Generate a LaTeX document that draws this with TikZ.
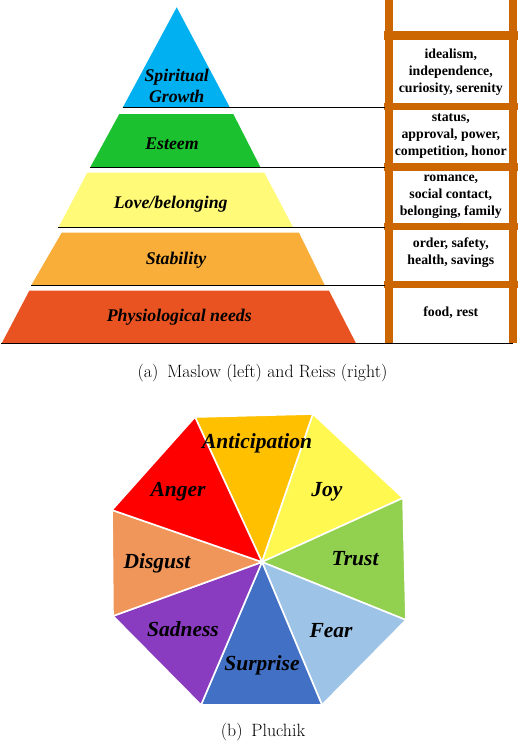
\documentclass[tikz,border=0pt]{standalone}
\usepackage{fontspec}
\newfontfamily\labelfont{Liberation Serif}
\usetikzlibrary{calc}

\definecolor{spiritual}{RGB}{0,176,240}
\definecolor{esteem}{RGB}{27,193,47}
\definecolor{love}{RGB}{255,250,120}
\definecolor{stability}{RGB}{249,174,58}
\definecolor{physio}{RGB}{233,83,34}
\definecolor{ladder}{RGB}{204,102,0}
\definecolor{anticipation}{RGB}{255,192,0}
\definecolor{joy}{RGB}{255,248,80}
\definecolor{trust}{RGB}{146,208,80}
\definecolor{fear}{RGB}{157,195,230}
\definecolor{surprise}{RGB}{66,112,196}
\definecolor{sadness}{RGB}{138,60,192}
\definecolor{disgust}{RGB}{240,150,90}
\definecolor{anger}{RGB}{255,0,0}

\begin{document}
\begin{tikzpicture}
    [
    x=1pt, y=-1pt,
    level/.style={font=\labelfont\bfseries\itshape\fontsize{17.8}{21}\selectfont, align=center},
    reiss/.style={font=\labelfont\bfseries\fontsize{13.8}{16.8}\selectfont, align=center},
    emotion/.style={font=\labelfont\bfseries\itshape\fontsize{21.5}{24}\selectfont},
    caption/.style={font=\fontsize{17.8}{20}\selectfont},
    tier line/.style={line width=1.4pt},
    wedge/.style={draw=white, line width=1.6pt, line join=round}
    ]

    \useasboundingbox (0,0) rectangle (518,742);

    % Maslow pyramid
    \fill [spiritual] (176.7,7.3) -- (230,107.7) -- (122.7,107.7) -- cycle;
    \fill [esteem] (119.3,114) -- (233.3,114) -- (260.7,167.7) -- (90,167.7) -- cycle;
    \fill [love] (87.3,172.7) -- (264.3,172.7) -- (293.3,227.7) -- (58.3,227.7) -- cycle;
    \fill [stability] (61.7,232.7) -- (299,232.7) -- (325,285.7) -- (31,285.7) -- cycle;
    \fill [physio] (29.3,290.7) -- (329,290.7) -- (356,343.3) -- (1.7,343.3) -- cycle;

    \node (spiritual) [level] at (176.7,86) {Spiritual\\Growth};
    \node (esteem) [level] at (172,144) {Esteem};
    \node (love) [level] at (170.7,204) {Love/belonging};
    \node (stability) [level] at (176,260) {Stability};
    \node (physio) [level] at (179.3,317.7) {Physiological needs};

    % Reiss ladder
    \fill [ladder] (385,0) rectangle (392.7,342.7);
    \fill [ladder] (509,0) rectangle (516.7,342.7);
    \foreach \top/\bot in {31/40, 102.7/110, 162.7/171, 222.7/230, 281/288.3}
        \fill [ladder] (384,\top) rectangle (518,\bot);

    \coordinate (t1l) at (122.7,107.7);  \coordinate (t1r) at (385,107.7);
    \coordinate (t2l) at (90,167.7);     \coordinate (t2r) at (385,167.7);
    \coordinate (t3l) at (58.3,227.7);   \coordinate (t3r) at (385,227.7);
    \coordinate (t4l) at (31,285.7);     \coordinate (t4r) at (385,285.7);
    \coordinate (t5l) at (1,343.3);      \coordinate (t5r) at (513,343.3);
    \foreach \i in {1,...,5}
        \draw [tier line] (t\i l) -- (t\i r);

    \node (growth) [reiss] at (450.8,72) {idealism,\\independence,\\curiosity, serenity};
    \node (status) [reiss] at (450.8,136) {status,\\approval, power,\\competition, honor};
    \node (social) [reiss] at (450.8,196.5) {romance,\\social contact,\\belonging, family};
    \node (safety) [reiss] at (450.8,253) {order, safety,\\health, savings};
    \node (basic) [reiss] at (450.8,313) {food, rest};

    \node (capa) [caption] at (262.5,373) {(a)\enspace Maslow (left) and Reiss (right)};

    % Pluchik wheel
    \coordinate (c) at (262,562);
    \coordinate (v0) at (195,417);
    \coordinate (v1) at (313,414);
    \coordinate (v2) at (403,498);
    \coordinate (v3) at (406,620);
    \coordinate (v4) at (322,705);
    \coordinate (v5) at (201,705);
    \coordinate (v6) at (113,616);
    \coordinate (v7) at (112,510);

    \filldraw [wedge, fill=anticipation] (c) -- (v0) -- (v1) -- cycle;
    \filldraw [wedge, fill=joy] (c) -- (v1) -- (v2) -- cycle;
    \filldraw [wedge, fill=trust] (c) -- (v2) -- (v3) -- cycle;
    \filldraw [wedge, fill=fear] (c) -- (v3) -- (v4) -- cycle;
    \filldraw [wedge, fill=surprise] (c) -- (v4) -- (v5) -- cycle;
    \filldraw [wedge, fill=sadness] (c) -- (v5) -- (v6) -- cycle;
    \filldraw [wedge, fill=disgust] (c) -- (v6) -- (v7) -- cycle;
    \filldraw [wedge, fill=anger] (c) -- (v7) -- (v0) -- cycle;

    \node (anticipation) [emotion] at (257,443) {Anticipation};
    \node (joy) [emotion] at (327,492) {Joy};
    \node (trust) [emotion] at (355,559) {Trust};
    \node (fear) [emotion] at (331,631) {Fear};
    \node (surprise) [emotion] at (262,665) {Surprise};
    \node (sadness) [emotion] at (183,629) {Sadness};
    \node (disgust) [emotion] at (157,563) {Disgust};
    \node (anger) [emotion] at (178,492) {Anger};

    \node (capb) [caption] at (263,732) {(b)\enspace Pluchik};

\end{tikzpicture}
\end{document}
